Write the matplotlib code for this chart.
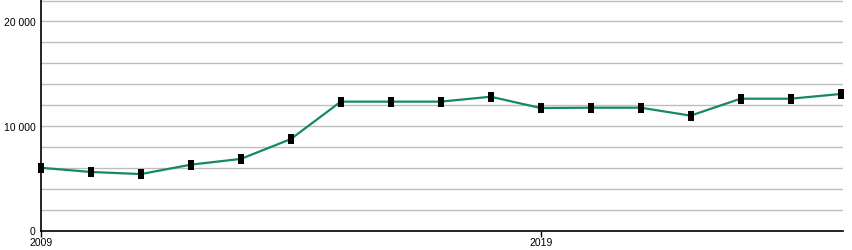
import matplotlib
matplotlib.use("Agg")
import matplotlib.pyplot as plt
from matplotlib.ticker import FuncFormatter, MultipleLocator

years = list(range(2009, 2026))
values = [6000, 5600, 5400, 6300, 6850, 8750, 12330, 12330, 12330, 12800,
          11720, 11750, 11750, 10990, 12610, 12610, 13060]
xtick_years = [2009, 2019]
ytick_values = [0, 10000, 20000]

line_color = "#14886a"
grid_color = "#bdbdbd"

plt.rcParams['font.family'] = ['Liberation Sans', 'DejaVu Sans']

fig = plt.figure(figsize=(8.52, 2.51), dpi=100)
ax = fig.add_axes([41 / 852, (251 - 231.5) / 251, (843 - 41) / 852, 231.5 / 251])

# narrow upright rectangles as markers
rect = [(-0.35, -0.5), (0.35, -0.5), (0.35, 0.5), (-0.35, 0.5), (-0.35, -0.5)]
ax.plot(years, values, color=line_color, linewidth=1.6, zorder=3)
ax.plot(years, values, linestyle="none", marker=rect, markersize=6.5,
        markeredgewidth=0, color="black", zorder=4, clip_on=False)

ax.set_xlim(2009, 2025.05)
ax.set_ylim(0, 22150)

ax.yaxis.set_minor_locator(MultipleLocator(2000))
ax.set_yticks(ytick_values)
ax.yaxis.set_major_formatter(FuncFormatter(lambda v, p: f"{int(v):,}".replace(",", " ")))
ax.grid(True, which="both", axis="y", color=grid_color, linewidth=1)
ax.set_axisbelow(True)
ax.tick_params(axis="y", which="both", length=0, labelsize=7.5, pad=4)

ax.set_xticks(xtick_years)
ax.set_xticklabels([str(y) for y in xtick_years])
ax.tick_params(axis="x", length=4, width=1, labelsize=7.5, pad=1)

for side in ["top", "right"]:
    ax.spines[side].set_visible(False)
ax.spines["left"].set_linewidth(1.2)
ax.spines["bottom"].set_linewidth(1.2)

fig.savefig("out.png", dpi=100)
